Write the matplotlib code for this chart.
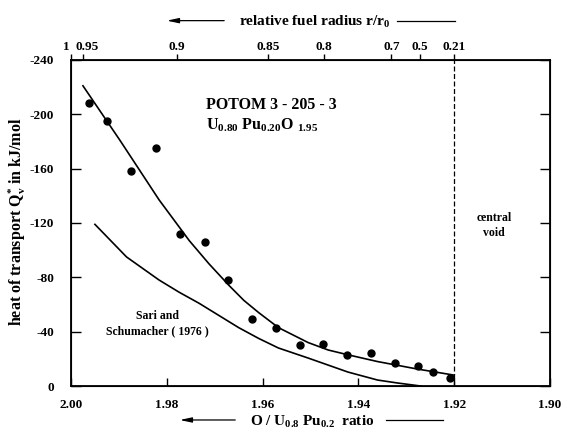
import matplotlib
matplotlib.use("Agg")
import matplotlib.pyplot as plt
from matplotlib.transforms import ScaledTranslation

plt.rcParams["font.family"] = ["Liberation Serif", "DejaVu Serif"]
plt.rcParams["font.weight"] = "bold"
plt.rcParams["axes.unicode_minus"] = False
plt.rcParams["mathtext.fontset"] = "custom"
plt.rcParams["mathtext.rm"] = "Liberation Serif:bold"
plt.rcParams["mathtext.it"] = "Liberation Serif:bold"
plt.rcParams["mathtext.bf"] = "Liberation Serif:bold"

# measured points POTOM 3-205-3
om_meas = [1.9963, 1.9925, 1.9874, 1.9822, 1.9772, 1.9720, 1.9672, 1.9623, 1.9573,
           1.9521, 1.9474, 1.9424, 1.9374, 1.9324, 1.9275, 1.9244, 1.9208]
q_meas = [-208, -195, -158, -175, -112, -106, -78, -49, -43,
          -30, -31, -23, -24, -17, -15, -10, -6]

# fitted curve through the measurements
om_fit = [1.9975, 1.9898, 1.9816, 1.9753, 1.9712, 1.9670, 1.9639, 1.9608, 1.9567,
          1.9505, 1.9463, 1.9422, 1.9360, 1.9277, 1.9200]
q_fit = [-221, -181, -137, -107, -90, -74, -63, -54, -43,
         -32, -26.5, -23, -18, -12.5, -8]

# Sari and Schumacher (1976)
om_sari = [1.9950, 1.9884, 1.9816, 1.9774, 1.9733, 1.9650, 1.9608, 1.9567, 1.9505,
           1.9422, 1.9360, 1.9318, 1.9270]
q_sari = [-119, -95, -78, -69, -61, -43, -35, -28, -20.6,
          -10.3, -4.4, -2.2, 0]

om_ticks = [2.00, 1.98, 1.96, 1.94, 1.92, 1.90]
q_ticks = [-240, -200, -160, -120, -80, -40, 0]

# relative fuel radius on the top axis
r_pos = [2.000, 1.9974, 1.9779, 1.9589, 1.9471, 1.9331, 1.9271, 1.9200]
r_labels = ["1", "0.95", "0.9", "0.85", "0.8", "0.7", "0.5", "0.21"]

void_om = 1.92

fig = plt.figure(figsize=(5.66, 4.30), dpi=100)
ax = fig.add_axes([0.1254, 0.1023, 0.8463, 0.7582])

ax.plot(om_fit, q_fit, color="black", lw=1.2)
ax.plot(om_sari, q_sari, color="black", lw=1.2)
ax.plot(om_meas, q_meas, "o", color="black", ms=5)
ax.plot([void_om, void_om], [0, -240], color="black", lw=0.9, ls=(0, (4, 2)))

ax.set_xlim(2.00, 1.90)
ax.set_ylim(0, -240)
ax.set_xticks(om_ticks)
ax.set_xticklabels(["%.2f" % v for v in om_ticks])
ax.set_yticks(q_ticks)
ax.tick_params(axis="x", direction="in", length=6, width=1, labelsize=9.5, pad=9,
               top=True)
ax.tick_params(axis="y", direction="in", length=7, width=1, labelsize=9.5, pad=12,
               right=True)
for s in ax.spines.values():
    s.set_linewidth(1.3)

fig.text(0.030, 0.484, r"heat of transport Q$^{*}_{v}$ in kJ/mol", fontsize=11.5,
         rotation=90, ha="center", va="center")

ax2 = ax.twiny()
ax2.set_xlim(ax.get_xlim())
ax2.set_xticks(r_pos)
ax2.set_xticklabels(r_labels)
ax2.tick_params(axis="x", direction="out", length=4, width=1, labelsize=9.5, pad=1)
top_labels = ax2.get_xticklabels()
top_labels[0].set_ha("right")
top_labels[0].set_transform(top_labels[0].get_transform()
                            + ScaledTranslation(-1 / 72, 0, fig.dpi_scale_trans))
top_labels[1].set_transform(top_labels[1].get_transform()
                            + ScaledTranslation(3 / 72, 0, fig.dpi_scale_trans))

ax.text(1.9718, -207, "POTOM 3 - 205 - 3", fontsize=11.5, ha="left", va="center")
ax.text(1.9718, -192, r"U$_{0.80}$ Pu$_{0.20}$O $_{1.95}$", fontsize=11.5,
        ha="left", va="center")
ax.text(1.9117, -118, "central\nvoid", fontsize=8.5, ha="center", va="center",
        linespacing=1.3)
ax.text(1.9820, -46, "Sari and\nSchumacher ( 1976 )", fontsize=8.5, ha="center",
        va="center", multialignment="center", linespacing=1.4)

# axis captions with direction arrows
fig.text(0.5565, 0.949, r"relative fuel radius r/r$_0$", fontsize=11, ha="center",
         va="center")
fig.add_artist(plt.Line2D([0.7014, 0.8039], [0.952, 0.952], color="black", lw=0.9))
ax.annotate("", xy=(0.2898, 0.952), xytext=(0.401, 0.952), xycoords="figure fraction",
            arrowprops=dict(arrowstyle="-|>,head_length=0.7,head_width=0.15",
                            color="black", lw=0.9))

fig.text(0.5512, 0.019, r"O / U$_{0.8}$ Pu$_{0.2}$  ratio", fontsize=11, ha="center",
         va="center")
fig.add_artist(plt.Line2D([0.682, 0.7827], [0.0233, 0.0233], color="black", lw=0.9))
ax.annotate("", xy=(0.3127, 0.0233), xytext=(0.4205, 0.0233),
            xycoords="figure fraction",
            arrowprops=dict(arrowstyle="-|>,head_length=0.7,head_width=0.15",
                            color="black", lw=0.9))

fig.savefig("out.png", dpi=100)
